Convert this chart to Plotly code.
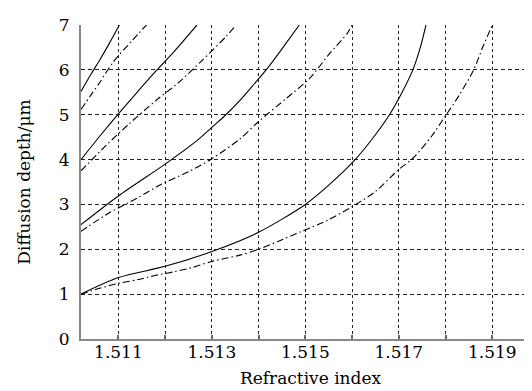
import plotly.graph_objects as go

# ---- data ----
xA_solid = [1.5102, 1.5104, 1.5106, 1.5108, 1.51102]
yA_solid = [5.52, 5.88, 6.22, 6.58, 7.0]
xA_dash = [1.5102, 1.5104, 1.5106, 1.5109, 1.5113, 1.5116]
yA_dash = [5.12, 5.42, 5.72, 6.19, 6.66, 7.0]

xB_solid = [1.5102, 1.5106, 1.5110, 1.5114, 1.5118, 1.5122, 1.51268]
yB_solid = [4.0, 4.52, 5.02, 5.5, 5.97, 6.42, 7.0]
xB_dash = [1.5102, 1.51075, 1.51121, 1.51182, 1.51228, 1.51281, 1.51331, 1.51352]
yB_dash = [3.75, 4.33, 4.78, 5.33, 5.71, 6.23, 6.75, 7.0]

xC_solid = [1.5102, 1.511, 1.512, 1.5127, 1.5130, 1.5133, 1.5136, 1.5139, 1.5142,
            1.5145, 1.51487]
yC_solid = [2.55, 3.19, 3.9, 4.44, 4.72, 5.0, 5.32, 5.68, 6.05, 6.47, 7.0]
xC_dash = [1.5102, 1.5108, 1.5114, 1.5119, 1.5125, 1.5130, 1.5136, 1.5140, 1.5146,
           1.5151, 1.5155, 1.5159, 1.5160]
yC_dash = [2.40, 2.81, 3.14, 3.44, 3.73, 4.02, 4.46, 4.85, 5.37, 5.82, 6.34, 6.82, 7.0]

xD_solid = [1.5102, 1.511, 1.512, 1.513, 1.514, 1.515, 1.5155, 1.51604,
            1.5164, 1.5168, 1.51707, 1.5173, 1.51746, 1.51758]
yD_solid = [1.0, 1.37, 1.62, 1.95, 2.38, 3.0, 3.43, 3.97, 4.42, 5.0, 5.5,
            6.0, 6.5, 7.0]
xD_dash = [1.5102, 1.5106, 1.5110, 1.5114, 1.5118, 1.5122, 1.5126, 1.5130, 1.5136,
           1.5140, 1.5144, 1.5149, 1.5155, 1.5160, 1.5165, 1.5170, 1.5173, 1.5177,
           1.5180, 1.5183, 1.5186, 1.5188, 1.5190]
yD_dash = [1.0, 1.13, 1.24, 1.32, 1.42, 1.50, 1.60, 1.73, 1.87, 2.0, 2.17, 2.39, 2.66,
           2.95, 3.29, 3.78, 4.03, 4.52, 4.98, 5.45, 6.0, 6.52, 7.0]

x_tickvals = [1.511, 1.512, 1.513, 1.514, 1.515, 1.516, 1.517, 1.518, 1.519, 1.520]
x_ticktext = ["1.511", "", "1.513", "", "1.515", "", "1.517", "", "1.519", ""]
y_tickvals = [0, 1, 2, 3, 4, 5, 6, 7]

x_title = "Refractive index"
y_title = "Diffusion depth/μm"

# ---- figure ----
fig = go.Figure()
pairs = [
    (xA_solid, yA_solid, "solid"), (xA_dash, yA_dash, "dashdot"),
    (xB_solid, yB_solid, "solid"), (xB_dash, yB_dash, "dashdot"),
    (xC_solid, yC_solid, "solid"), (xC_dash, yC_dash, "dashdot"),
    (xD_solid, yD_solid, "solid"), (xD_dash, yD_dash, "dashdot"),
]
for xs, ys, style in pairs:
    fig.add_trace(go.Scatter(
        x=xs, y=ys, mode="lines",
        line=dict(color="black", width=1.1,
                  dash="solid" if style == "solid" else "7px,3px,1.5px,3px",
                  shape="spline", smoothing=0.8),
        showlegend=False, hoverinfo="skip"))

font_family = "DejaVu Serif"
fig.update_layout(
    width=532, height=391,
    margin=dict(l=73, r=0, t=17, b=60),
    paper_bgcolor="white", plot_bgcolor="white",
    font=dict(family=font_family, size=17, color="black"),
)
fig.update_xaxes(
    range=[1.5102, 1.52002],
    tickvals=x_tickvals, ticktext=x_ticktext,
    showgrid=True, gridcolor="#222", gridwidth=1, griddash="3px,3px",
    showline=True, linecolor="#888", linewidth=2,
    ticks="inside", ticklen=4, tickcolor="#666", tickwidth=2,
    zeroline=False,
    tickfont=dict(size=17, family=font_family),
    ticklabelstandoff=-3,
    title=dict(text=x_title, font=dict(size=17, family=font_family), standoff=11),
)
fig.update_yaxes(
    range=[0, 7.001],
    tickvals=y_tickvals,
    showgrid=True, gridcolor="#222", gridwidth=1, griddash="4px,3px",
    showline=True, linecolor="#888", linewidth=2,
    ticks="", zeroline=False,
    tickfont=dict(size=17, family=font_family),
    ticklabelstandoff=6,
    title=dict(text=y_title, font=dict(size=17, family=font_family), standoff=24),
)

fig.write_html("out.html")
